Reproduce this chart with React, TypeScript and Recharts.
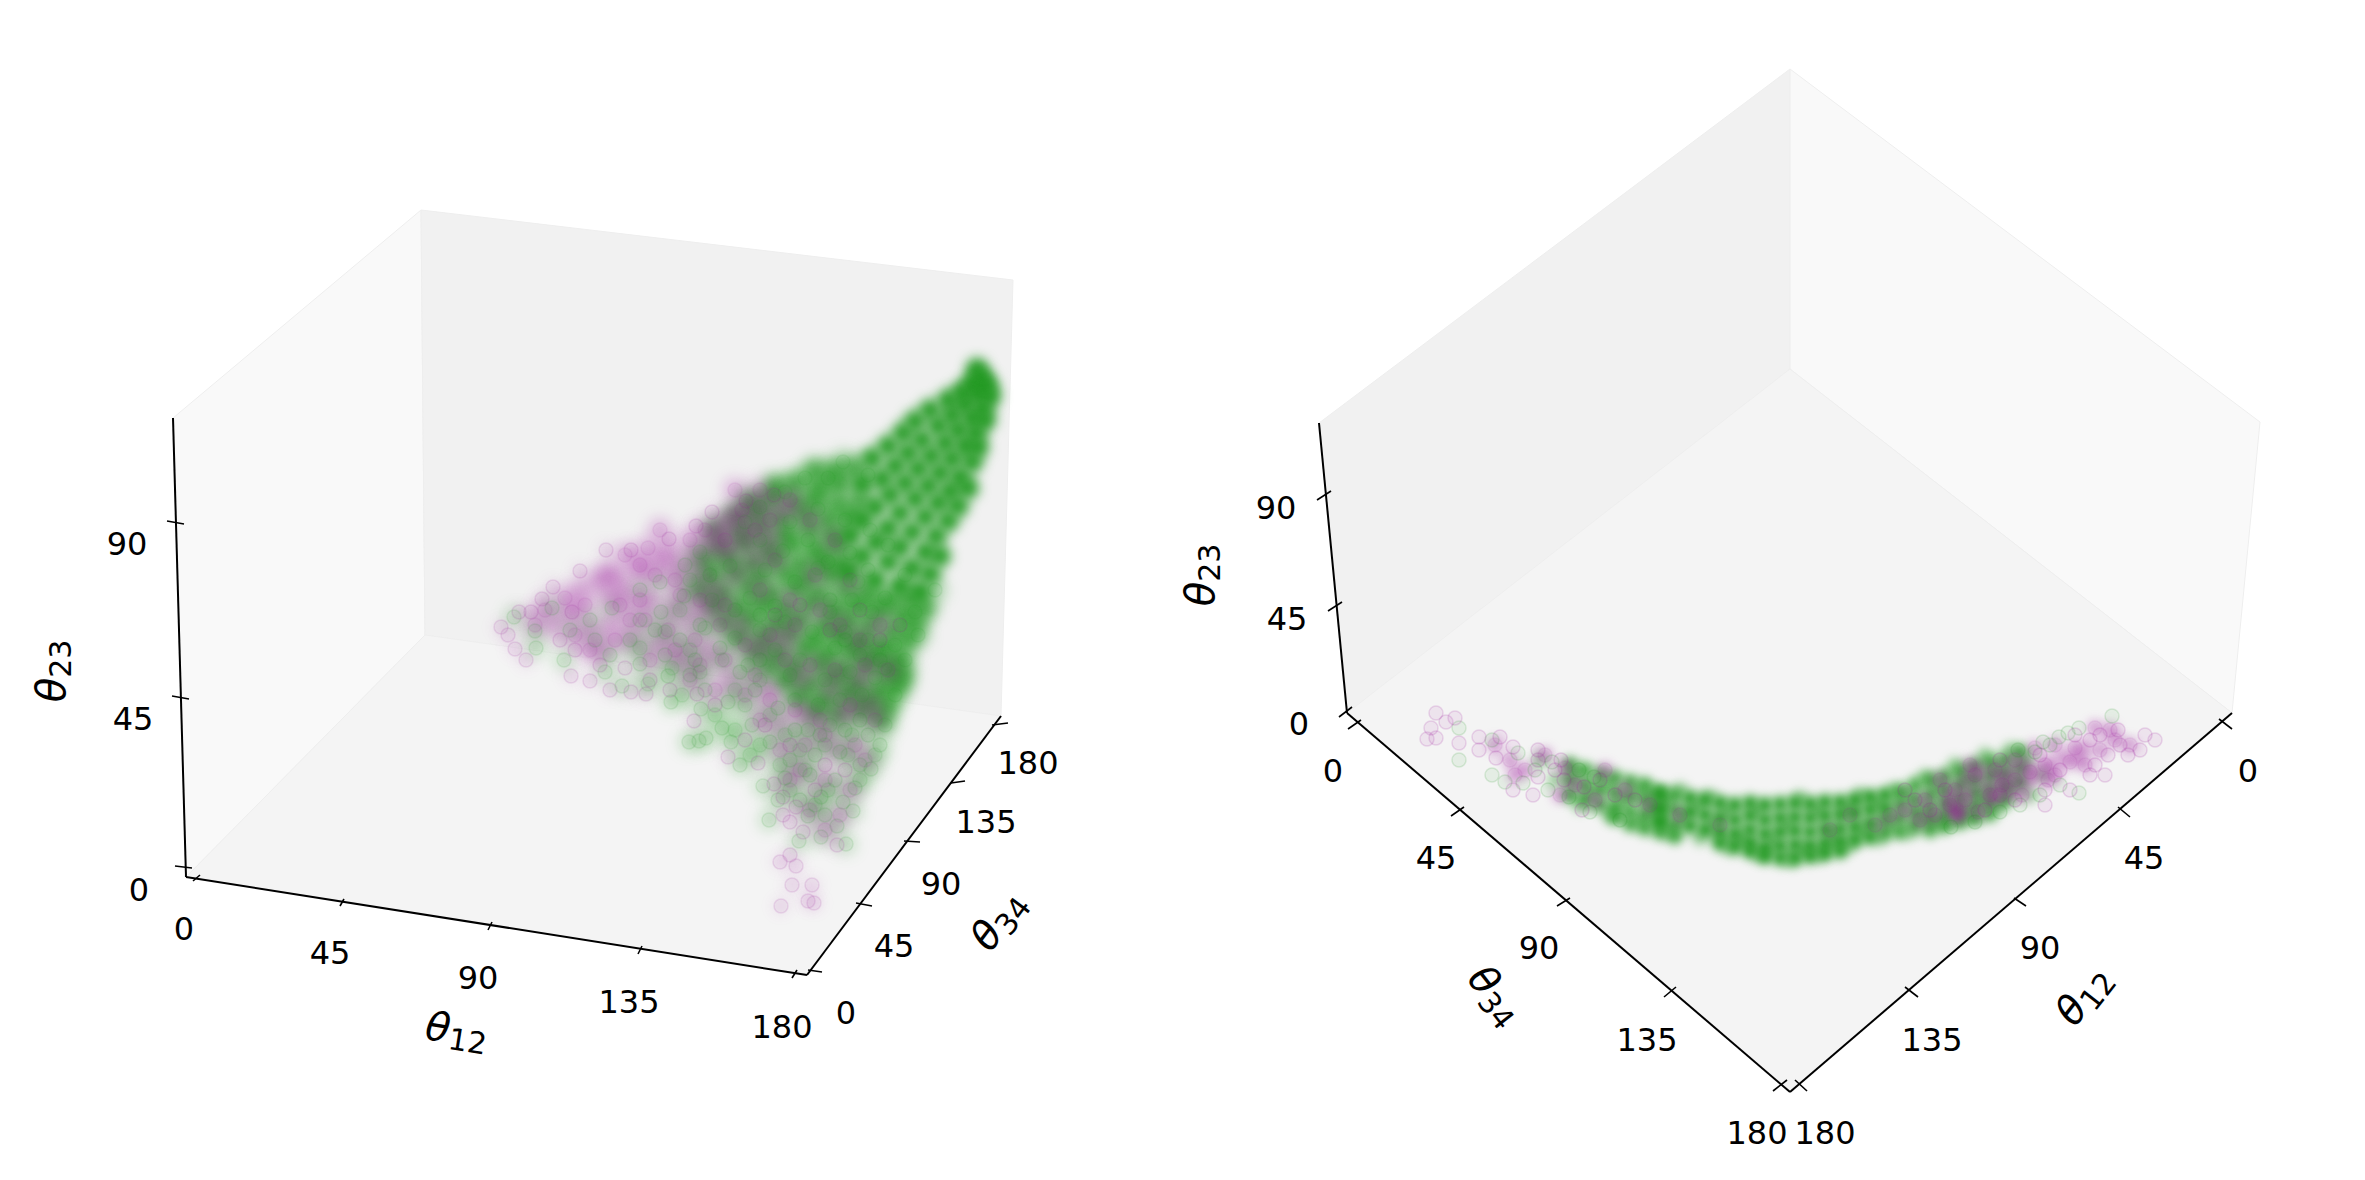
import React from 'react';
import { ScatterChart, Scatter, XAxis, YAxis } from 'recharts';

const WIDTH = 2365;
const HEIGHT = 1180;
const GREEN = '#229a22';
const PURPLE = '#a020a0';

type Pt = number[];

// panel panes
const leftWallL: Pt[] = [[173, 418], [421, 210], [425, 635], [186, 877]];
const leftWallB: Pt[] = [[421, 210], [1013, 280], [1001, 716], [425, 635]];
const leftFloor: Pt[] = [[186, 877], [425, 635], [1001, 716], [807, 975]];
const rightWallL: Pt[] = [[1319, 423], [1790, 69], [1790, 369], [1347, 713]];
const rightWallR: Pt[] = [[1790, 69], [2260, 422], [2232, 713], [1790, 369]];
const rightFloor: Pt[] = [[1347, 713], [1790, 369], [2232, 713], [1790, 1092]];

const axisLines: Pt[] = [
  [173, 418, 186, 877], [186, 877, 807, 975], [807, 975, 1001, 716],
  [1319, 423, 1347, 713], [1347, 713, 1790, 1092], [1790, 1092, 2232, 713],
];
const tickMarks: Pt[] = [
  [193, 881, 200, 875], [340, 906, 344, 899], [488, 930, 492, 922], [638, 954, 642, 946], [792, 978, 797, 970],
  [167, 521, 184, 524], [172, 696, 189, 699], [175, 866, 192, 868],
  [808, 970, 822, 972], [856, 903, 872, 906], [904, 841, 920, 842], [951, 783, 965, 781], [992, 725, 1008, 723],
  [1317, 500, 1331, 491], [1328, 611, 1342, 602], [1339, 717, 1352, 707],
  [1348, 729, 1361, 720], [1451, 816, 1464, 807], [1557, 906, 1570, 898], [1664, 997, 1676, 987], [1773, 1091, 1787, 1080],
  [2219, 719, 2232, 729], [2118, 807, 2130, 817], [2014, 898, 2026, 906], [1905, 987, 1918, 997], [1795, 1080, 1807, 1091],
];

const tickText = ['0', '45', '90', '135', '180'];
const leftXTicks: Pt[] = [[184, 929], [330, 953], [478, 978], [629, 1002], [782, 1027]];
const leftYTicks: Pt[] = [[846, 1013], [894, 946], [941, 884], [986, 822], [1028, 763]];
const leftZTicks: Pt[] = [[139, 890], [133, 719], [127, 544]];
const rightXTicks: Pt[] = [[2248, 771], [2144, 858], [2040, 948], [1932, 1040], [1825, 1133]];
const rightYTicks: Pt[] = [[1333, 771], [1436, 858], [1539, 948], [1647, 1040], [1757, 1133]];
const rightZTicks: Pt[] = [[1299, 724], [1287, 619], [1276, 508]];

const axisTitles = [
  { x: 457, y: 1030, sub: '12', rot: 9 },
  { x: 998, y: 920, sub: '34', rot: -53 },
  { x: 51, y: 671, sub: '23', rot: -90 },
  { x: 2083, y: 995, sub: '12', rot: -52 },
  { x: 1496, y: 995, sub: '34', rot: 52 },
  { x: 1200, y: 575, sub: '23', rot: -90 },
];

// left panel
const leftGreenCore: Pt[] = [
  [977, 369], [981, 378], [987, 385], [972, 384], [962, 392], [978, 393], [990, 396], [948, 400], [965, 404], [983, 408],
  [930, 410], [952, 415], [972, 418], [985, 420], [915, 421], [938, 426], [958, 430], [976, 433], [903, 433], [922, 440],
  [945, 443], [965, 446], [978, 447], [888, 446], [908, 453], [931, 456], [952, 459], [972, 462], [872, 458], [895, 466],
  [918, 469], [940, 473], [960, 477], [968, 488], [882, 479], [905, 483], [928, 486], [950, 491], [862, 484], [890, 495],
  [915, 499], [938, 503], [958, 506], [875, 507], [900, 513], [925, 517], [948, 521], [862, 520], [888, 528], [912, 532],
  [936, 536], [850, 535], [876, 542], [900, 547], [925, 552], [940, 556], [862, 556], [888, 562], [912, 568], [930, 574],
  [848, 572], [875, 580], [900, 586], [920, 592],
];
const leftGreenMid: Pt[] = [
  [815, 470], [835, 472], [855, 468], [775, 486], [795, 483], [820, 488], [840, 485], [750, 501], [772, 498], [795, 503],
  [815, 499], [838, 504], [860, 500], [735, 516], [757, 513], [780, 518], [805, 514], [828, 519], [850, 515], [715, 530],
  [740, 533], [762, 528], [785, 534], [810, 529], [832, 535], [720, 546], [745, 543], [768, 548], [792, 544], [815, 549],
  [838, 545], [705, 561], [728, 558], [752, 563], [775, 559], [800, 564], [822, 560], [842, 565], [712, 576], [736, 573],
  [760, 578], [785, 574], [808, 579], [830, 575], [700, 590], [724, 593], [748, 588], [772, 594], [796, 589], [820, 595],
  [845, 590], [868, 594], [890, 601], [910, 598], [715, 605], [738, 608], [762, 603], [786, 609], [810, 604], [835, 610],
  [858, 606], [880, 611], [903, 615], [925, 608], [725, 622], [750, 619], [775, 624], [800, 620], [825, 625], [848, 621],
  [870, 626], [893, 630], [915, 624], [740, 636], [765, 639], [790, 634], [815, 640], [838, 635], [860, 641], [884, 646],
  [908, 640], [755, 651], [780, 654], [805, 649], [828, 655], [852, 650], [875, 656], [898, 660], [770, 666], [795, 669],
  [820, 664], [843, 670], [866, 665], [890, 671], [903, 676], [785, 681], [810, 684], [833, 679], [857, 685], [880, 690],
  [897, 686], [800, 696], [825, 699], [848, 694], [870, 702], [888, 706], [815, 711], [838, 714], [860, 709], [880, 718],
];
const leftGreenExtra: Pt[] = [
  [843, 462], [805, 478], [785, 492], [828, 478], [868, 475], [760, 507], [745, 522], [790, 522], [818, 509], [870, 530],
  [845, 520], [760, 540], [700, 552], [730, 566], [783, 551], [808, 540], [850, 553], [828, 562], [868, 570], [888, 545],
  [765, 570], [795, 582], [818, 568], [858, 582], [885, 598], [905, 575], [690, 580], [712, 600], [750, 598], [775, 606],
  [830, 612], [852, 600], [872, 612], [915, 612], [935, 590], [680, 610], [705, 628], [735, 638], [760, 630], [785, 622],
  [812, 632], [845, 632], [868, 640], [895, 645], [918, 635], [665, 632], [690, 650], [722, 660], [748, 665], [775, 650],
  [800, 660], [835, 648], [860, 655], [885, 668], [905, 660], [640, 648], [672, 668], [700, 672], [735, 690], [760, 680],
  [790, 675], [825, 680], [850, 672], [875, 678], [895, 695], [648, 684], [682, 695], [715, 715], [745, 705], [770, 715],
  [795, 700], [818, 705], [840, 700], [862, 695], [885, 725], [735, 730], [760, 745], [785, 735], [808, 730], [830, 725],
  [852, 735], [875, 755], [750, 755], [800, 750], [825, 745], [848, 755], [780, 765], [805, 770], [828, 790], [860, 780],
  [815, 805], [790, 790],
];
const leftGreenOuter: Pt[] = [
  [514, 617], [535, 631], [536, 648], [564, 660], [605, 672], [622, 686], [671, 702], [701, 709], [689, 742], [699, 741],
  [706, 738], [731, 742], [740, 765], [763, 786], [769, 820], [799, 841], [821, 837], [846, 844], [837, 826], [808, 816],
  [853, 811], [821, 797], [871, 769], [590, 620], [612, 608], [640, 590], [661, 612], [684, 596], [630, 640], [655, 630],
  [680, 640], [700, 625], [610, 655], [640, 664], [668, 676], [695, 660], [720, 648], [740, 672], [705, 690], [728, 702],
  [755, 690], [778, 708], [752, 725], [722, 728], [770, 742], [795, 730], [820, 735], [845, 730], [868, 735], [880, 745],
  [790, 760], [815, 755], [840, 752], [860, 765], [785, 778], [810, 775], [835, 780], [855, 788], [800, 800], [825, 815],
  [843, 802], [778, 800], [735, 610], [665, 655], [690, 675], [760, 660], [845, 640], [710, 575], [685, 565], [660, 582],
  [640, 620], [595, 640], [570, 630], [552, 608], [760, 615], [830, 600], [880, 660], [860, 720],
];
const leftPurpleMid: Pt[] = [
  [606, 573], [615, 577], [598, 582], [625, 590], [610, 598], [580, 590], [662, 560], [669, 552], [680, 568], [695, 555],
  [712, 545], [728, 552], [720, 530], [740, 520], [746, 540], [700, 575], [715, 590], [735, 575], [755, 560], [770, 540],
  [785, 510], [760, 505], [728, 518], [650, 600], [672, 610], [690, 620], [640, 570], [572, 612], [590, 630], [555, 625],
  [610, 625], [632, 640], [600, 650], [658, 645], [680, 660], [710, 650], [705, 610], [740, 625], [760, 650], [785, 640],
  [730, 680], [770, 690], [800, 680], [830, 690], [860, 680], [805, 715], [845, 715], [780, 725], [835, 750], [870, 705],
];
const leftPurpleExtra: Pt[] = [
  [625, 555], [648, 548], [655, 575], [675, 580], [690, 540], [705, 530], [725, 540], [742, 510], [755, 530], [770, 520],
  [775, 560], [760, 590], [725, 605], [700, 600], [680, 595], [640, 600], [620, 605], [630, 620], [615, 640], [585, 605],
  [565, 598], [545, 610], [535, 625], [575, 635], [590, 650], [645, 620], [668, 630], [695, 640], [720, 625], [745, 645],
  [770, 635], [795, 625], [820, 610], [840, 625], [860, 640], [880, 625], [650, 660], [675, 650], [700, 665], [725, 660],
  [755, 675], [785, 660], [810, 665], [835, 670], [865, 665], [888, 670], [690, 680], [715, 690], [745, 695], [770, 700],
  [795, 710], [820, 720], [850, 705], [875, 720], [760, 720], [780, 750], [805, 745], [825, 735], [855, 745], [865, 760],
  [800, 770], [825, 780], [850, 790], [790, 780], [810, 810], [825, 830], [840, 815], [660, 530], [640, 565], [735, 490],
  [760, 490], [790, 500], [810, 520], [835, 540], [815, 575], [790, 600], [850, 580],
];
const leftPurpleOuter: Pt[] = [
  [501, 627], [508, 635], [515, 649], [526, 660], [519, 612], [531, 612], [542, 599], [553, 587], [572, 612], [580, 571],
  [606, 550], [631, 550], [669, 539], [696, 526], [712, 512], [746, 501], [774, 495], [571, 676], [590, 681], [610, 690],
  [631, 692], [646, 694], [697, 694], [694, 721], [728, 757], [758, 763], [774, 784], [783, 797], [796, 807], [783, 815],
  [790, 822], [780, 862], [790, 855], [796, 866], [792, 885], [812, 885], [781, 906], [808, 901], [814, 903], [837, 845],
  [803, 832], [560, 640], [575, 650], [600, 665], [625, 668], [650, 680], [670, 690], [715, 705], [745, 740], [765, 725],
  [815, 790], [845, 770], [825, 765], [790, 745], [880, 640], [900, 625], [860, 610], [830, 630], [800, 605], [775, 615],
];

// right panel
const rightGreenCore: Pt[] = [
  [1660, 795], [1660, 810], [1660, 822], [1690, 798], [1690, 812], [1690, 826], [1705, 800], [1705, 815], [1705, 830],
  [1720, 803], [1720, 818], [1720, 833], [1720, 843], [1735, 805], [1735, 820], [1735, 834], [1735, 846], [1750, 803],
  [1750, 816], [1750, 830], [1750, 843], [1750, 851], [1765, 805], [1765, 820], [1765, 834], [1765, 848], [1765, 856],
  [1780, 804], [1780, 818], [1780, 832], [1780, 846], [1780, 858], [1795, 803], [1795, 817], [1795, 831], [1795, 845],
  [1795, 858], [1810, 804], [1810, 818], [1810, 832], [1810, 846], [1810, 856], [1825, 802], [1825, 816], [1825, 830],
  [1825, 844], [1825, 853], [1840, 802], [1840, 815], [1840, 829], [1840, 842], [1840, 851], [1855, 800], [1855, 813],
  [1855, 827], [1855, 840], [1870, 797], [1870, 810], [1870, 824], [1870, 837], [1885, 795], [1885, 808],
];
const rightGreenMid: Pt[] = [
  [1570, 765], [1570, 780], [1570, 795], [1585, 770], [1585, 785], [1585, 800], [1600, 775], [1600, 790], [1600, 805],
  [1615, 778], [1615, 793], [1615, 808], [1615, 817], [1630, 782], [1630, 797], [1630, 812], [1630, 824], [1645, 785],
  [1645, 800], [1645, 815], [1645, 828], [1660, 792], [1660, 807], [1660, 821], [1660, 832], [1675, 795], [1675, 810],
  [1675, 825], [1675, 836], [1900, 792], [1900, 805], [1900, 818], [1900, 832], [1915, 785], [1915, 800], [1915, 813],
  [1915, 826], [1930, 780], [1930, 795], [1930, 808], [1930, 820], [1930, 830], [1945, 776], [1945, 790], [1945, 803],
  [1945, 816], [1945, 826], [1960, 771], [1960, 785], [1960, 798], [1960, 811], [1960, 822], [1975, 766], [1975, 780],
  [1975, 793], [1975, 806], [1975, 818], [1990, 762], [1990, 776], [1990, 790], [1990, 803], [1990, 814], [2005, 760],
  [2005, 774], [2005, 787], [2005, 800], [2020, 752], [2020, 768], [2020, 782], [1885, 820], [1885, 833],
];
const rightGreenExtra: Pt[] = [
  [1540, 760], [1555, 780], [1575, 772], [1590, 792], [1607, 783], [1622, 800], [1638, 790], [1652, 808], [1667, 800],
  [1683, 818], [1697, 806], [1712, 825], [1727, 810], [1742, 838], [1757, 810], [1772, 840], [1787, 825], [1803, 850],
  [1818, 810], [1832, 838], [1847, 808], [1862, 832], [1877, 803], [1892, 825], [1907, 795], [1922, 815], [1937, 788],
  [1952, 808], [1967, 778], [1982, 798], [1997, 770], [2012, 790], [2027, 760], [2042, 775], [1580, 805], [1610, 815],
  [1640, 822], [1670, 832], [1700, 838], [1730, 848], [1760, 855], [1790, 860], [1820, 855], [1850, 845], [1880, 838],
  [1910, 832], [1940, 822], [1970, 815], [2000, 805], [2030, 795], [1650, 792], [1680, 790], [1710, 797], [1800, 798],
  [1860, 795], [1895, 790], [1925, 777], [1955, 765], [1985, 755], [2010, 750],
];
const rightGreenOuter: Pt[] = [
  [1459, 760], [1459, 728], [1492, 775], [1523, 783], [1548, 790], [1569, 797], [1492, 740], [1518, 753], [1579, 770],
  [1594, 777], [1505, 782], [1535, 770], [1552, 762], [1590, 812], [1620, 820], [2018, 750], [2043, 742], [2059, 737],
  [2079, 728], [2112, 716], [2079, 793], [1951, 827], [2035, 752], [2050, 745], [2068, 733], [2040, 795], [2060, 785],
  [2020, 805], [2000, 812], [1975, 822],
];
const rightPurpleCore: Pt[] = [
  [1957, 815], [1957, 815], [1960, 812], [1955, 810], [2000, 778], [2010, 772], [2025, 765], [1985, 785], [1970, 792],
  [2035, 775], [2050, 765], [2062, 758], [1992, 800], [2010, 792], [2028, 783], [2079, 757], [2085, 748], [1948, 798],
  [1965, 780], [1980, 770],
];
const rightPurpleExtra: Pt[] = [
  [1890, 815], [1905, 810], [1920, 820], [1935, 815], [1950, 805], [1965, 800], [1978, 812], [1990, 795], [2002, 785],
  [2015, 780], [2030, 772], [2045, 765], [2055, 775], [2070, 762], [2085, 765], [2100, 750], [2115, 740], [2130, 745],
  [1925, 800], [1940, 780], [1955, 790], [1975, 775], [1995, 770], [2015, 760], [2035, 748], [2055, 745], [2075, 748],
  [2095, 728], [2110, 730], [1875, 825], [1850, 815], [1830, 830], [1970, 765], [2048, 780], [2022, 795], [2000, 795],
  [1495, 745], [1510, 760], [1525, 770], [1545, 755], [1575, 785], [1595, 800], [1625, 790], [1650, 805], [1680, 815],
  [1720, 825], [1565, 768], [1515, 775], [1560, 795], [1605, 770],
];
const rightPurpleOuter: Pt[] = [
  [1436, 713], [1446, 722], [1455, 718], [1431, 728], [1427, 739], [1436, 738], [1459, 743], [1479, 737], [1479, 750],
  [1500, 737], [1496, 758], [1513, 747], [1538, 750], [1538, 760], [1561, 760], [1538, 777], [1564, 780], [1584, 787],
  [1615, 795], [1635, 800], [1513, 790], [1533, 795], [1582, 810], [1600, 780], [1555, 770], [2155, 740], [2145, 735],
  [2118, 730], [2120, 745], [2100, 735], [2108, 755], [2128, 755], [2090, 775], [2105, 775], [2075, 735], [2090, 740],
  [2060, 770], [2070, 790], [2045, 790], [2140, 750], [2095, 765], [2015, 800], [2045, 805], [1985, 810], [1930, 810],
  [1945, 790], [1915, 800], [1905, 790], [2000, 760], [2040, 755],
];

const toRows = (pts: Pt[]) => pts.map(([x, y]) => ({ x, y }));
const rowsOf = (a: Pt) => [{ x: a[0], y: a[1] }, { x: a[2], y: a[3] }];

const noDot = () => <g />;

const Ring = (color: string, alpha: number) => (p: any) => (
  <circle cx={p.cx} cy={p.cy} r={7} fill={color} fillOpacity={alpha * 0.6} stroke={color} strokeOpacity={alpha * 1.2} strokeWidth={1.5} />
);

// soft disc, stands in for the many overlapping markers of the dense parts
const Soft = (color: string, alpha: number, r: number, blur: number) => (p: any) => (
  <circle cx={p.cx} cy={p.cy} r={r} fill={color} fillOpacity={alpha} style={{ filter: `blur(${blur}px)` }} />
);

const TickLabel = (p: any) => (
  <text x={p.cx} y={p.cy} textAnchor="middle" dominantBaseline="central" fontFamily="DejaVu Sans" fontSize={32} fill="#000">
    {p.payload.label}
  </text>
);

const AxisTitle = (p: any) => (
  <text
    x={p.cx}
    y={p.cy}
    textAnchor="middle"
    dominantBaseline="central"
    fontFamily="DejaVu Sans"
    fontSize={40}
    fill="#000"
    transform={`rotate(${p.payload.rot} ${p.cx} ${p.cy})`}
  >
    <tspan fontStyle="italic">θ</tspan>
    <tspan fontSize={30} dy={9}>{p.payload.sub}</tspan>
  </text>
);

const pane = (pts: Pt[], fill: string, key: string) => (
  <Scatter
    key={key}
    data={toRows([...pts, pts[0]])}
    isAnimationActive={false}
    shape={noDot}
    line={{ stroke: '#eeeeee', strokeWidth: 1, fill }}
    lineJointType="linear"
  />
);

const seg = (a: Pt, width: number, key: string) => (
  <Scatter
    key={key}
    data={rowsOf(a)}
    isAnimationActive={false}
    shape={noDot}
    line={{ stroke: '#000', strokeWidth: width, fill: 'none' }}
    lineJointType="linear"
  />
);

const rings = (pts: Pt[], color: string, alpha: number, key: string) => (
  <Scatter key={key} data={toRows(pts)} isAnimationActive={false} shape={Ring(color, alpha)} />
);

const soft = (pts: Pt[], color: string, alpha: number, r: number, blur: number, key: string) => (
  <Scatter key={key} data={toRows(pts)} isAnimationActive={false} shape={Soft(color, alpha, r, blur)} />
);

const tickGroups = [leftXTicks, leftYTicks, leftZTicks, rightXTicks, rightYTicks, rightZTicks];
const tickRows = tickGroups.flatMap((g) => g.map(([x, y], i) => ({ x, y, label: tickText[i] })));

export default function App() {
  return (
    <div style={{ position: 'absolute', left: 0, top: 0, width: WIDTH, height: HEIGHT, background: '#fff' }}>
      <ScatterChart width={WIDTH} height={HEIGHT} margin={{ top: 0, right: 0, bottom: 0, left: 0 }}>
        <XAxis type="number" dataKey="x" domain={[0, WIDTH]} hide />
        <YAxis type="number" dataKey="y" domain={[0, HEIGHT]} reversed hide />
        {pane(leftWallL, '#f9f9f9', 'lw')}
        {pane(leftWallB, '#f1f1f1', 'lb')}
        {pane(leftFloor, '#f4f4f4', 'lf')}
        {pane(rightWallL, '#f1f1f1', 'rw')}
        {pane(rightWallR, '#f9f9f9', 'rr')}
        {pane(rightFloor, '#f4f4f4', 'rf')}

        {soft(leftGreenOuter, GREEN, 0.2, 11, 7, 'lgos')}
        {soft(leftPurpleOuter, PURPLE, 0.08, 10, 6, 'lpos')}
        {soft(leftGreenMid, GREEN, 0.75, 12, 7, 'lgms')}
        {soft(leftGreenExtra, GREEN, 0.32, 12, 7, 'lges')}
        {soft(leftPurpleMid, PURPLE, 0.3, 12, 7, 'lpms')}
        {soft(leftPurpleExtra, PURPLE, 0.28, 12, 7, 'lpes')}
        {soft(leftGreenCore, GREEN, 0.95, 11, 6, 'lgcs')}
        {rings(leftGreenOuter, GREEN, 0.09, 'lgo')}
        {rings(leftPurpleOuter, PURPLE, 0.1, 'lpo')}
        {rings(leftPurpleExtra, PURPLE, 0.07, 'lpe')}
        {rings(leftGreenExtra, GREEN, 0.07, 'lge')}

        {soft(rightGreenMid, GREEN, 0.8, 8, 5, 'rgms')}
        {soft(rightGreenExtra, GREEN, 0.4, 8, 5, 'rges')}
        {soft(rightPurpleExtra, PURPLE, 0.36, 8, 5, 'rpes')}
        {soft(rightPurpleCore, PURPLE, 0.3, 8, 4, 'rpcs')}
        {soft(rightGreenCore, GREEN, 0.95, 8, 5, 'rgcs')}
        {rings(rightGreenOuter, GREEN, 0.12, 'rgo')}
        {rings(rightPurpleOuter, PURPLE, 0.13, 'rpo')}
        {rings(rightPurpleExtra, PURPLE, 0.07, 'rpe')}

        {axisLines.map((a, i) => seg(a, 2, `a${i}`))}
        {tickMarks.map((a, i) => seg(a, 1.6, `t${i}`))}
        <Scatter data={tickRows} isAnimationActive={false} shape={TickLabel} />
        <Scatter data={axisTitles} isAnimationActive={false} shape={AxisTitle} />
      </ScatterChart>
    </div>
  );
}
